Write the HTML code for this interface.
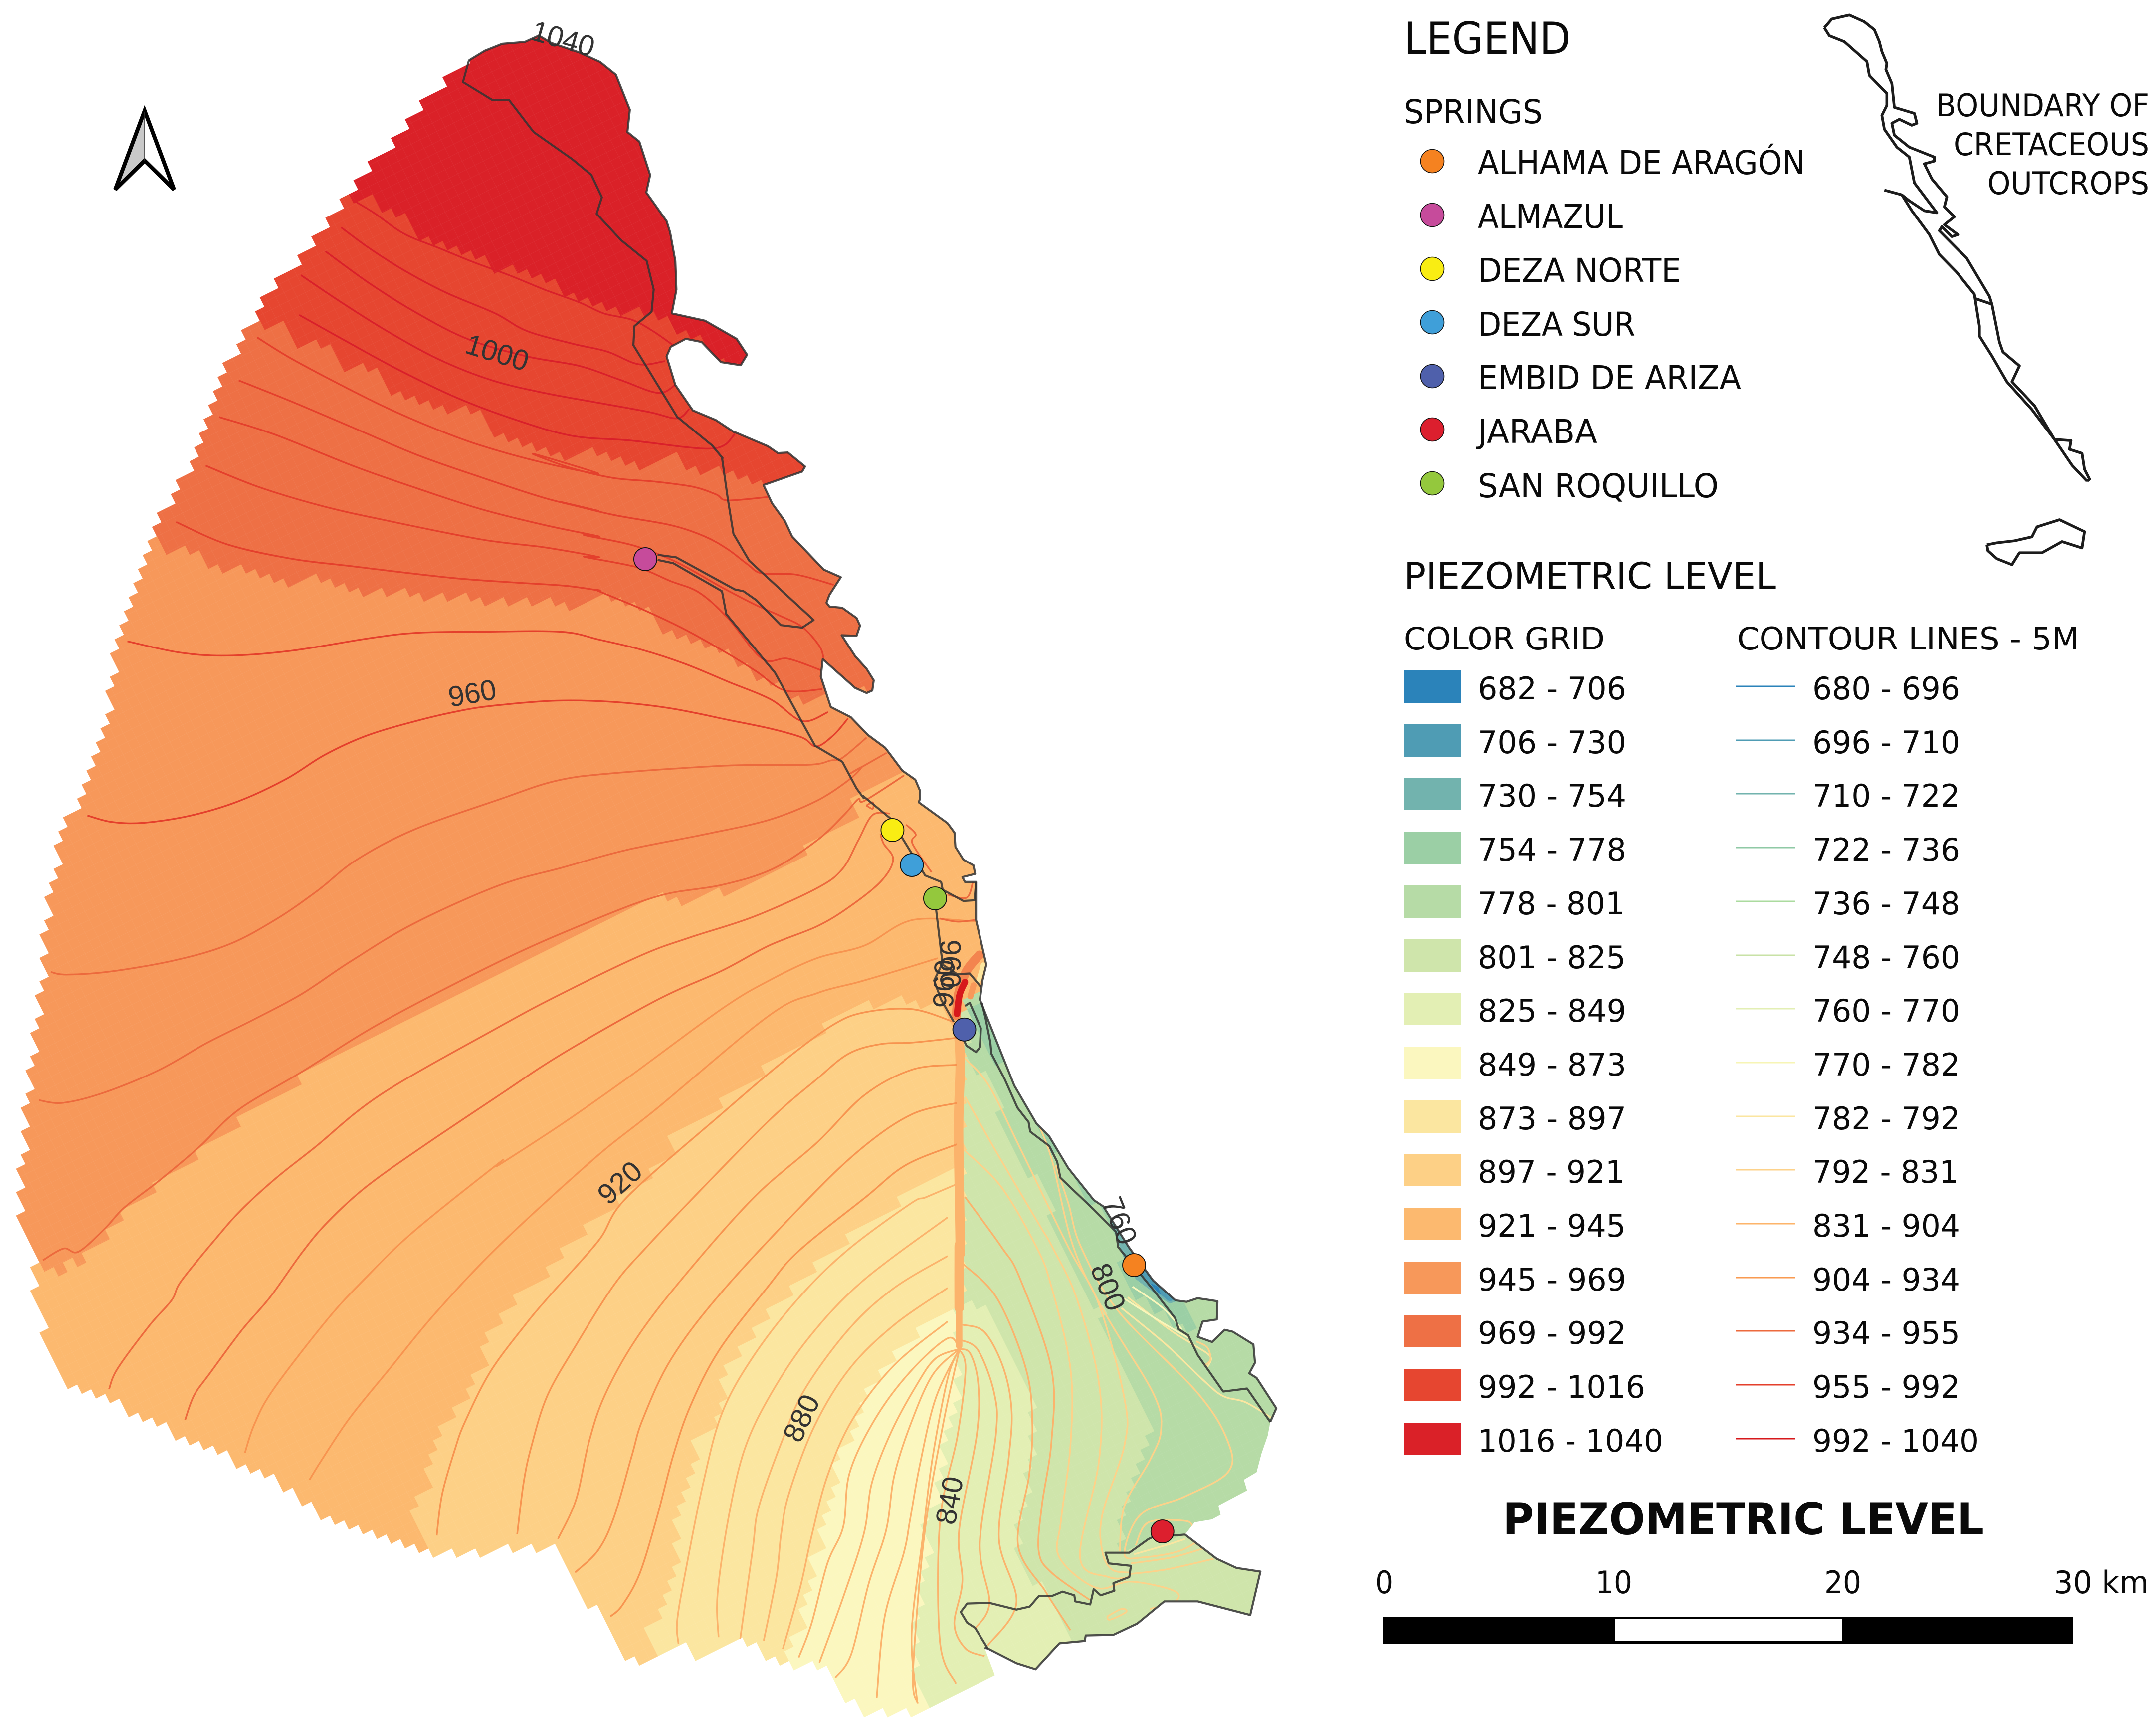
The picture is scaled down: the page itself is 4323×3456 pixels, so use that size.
<!DOCTYPE html>
<html lang="en">
<head>
<meta charset="utf-8">
<title>Piezometric level map</title>
<style>
html,body{margin:0;padding:0;background:#fff}
svg{display:block}
.t{font-family:"DejaVu Sans","Liberation Sans",sans-serif;fill:#0a0a0a}
.cl{font-family:"Liberation Sans",sans-serif;fill:#333;font-size:58px;text-anchor:middle;dominant-baseline:central}
</style>
</head>
<body>
<svg id="map" xmlns="http://www.w3.org/2000/svg" width="4323" height="3456" viewBox="0 0 4323 3456">
<rect width="4323" height="3456" fill="#fff"/>
<defs>
<clipPath id="coastClip"><path id="coastClipPath"/></clipPath>
<pattern id="gridPattern" width="19" height="19" patternUnits="userSpaceOnUse" patternTransform="rotate(-26.57)">
<path d="M19 0H0V19" fill="none" stroke="#fff" stroke-width="1.2" stroke-opacity="0.07"/>
</pattern>
</defs>
<g id="rasterLayer" clip-path="url(#coastClip)"></g>
<g id="detailLayer" clip-path="url(#coastClip)"></g>
<g id="contourLayer" clip-path="url(#coastClip)" fill="none" stroke-linejoin="round" stroke-linecap="butt"></g>
<g id="outlineLayer" fill="none" stroke="#333" stroke-opacity="0.85" stroke-width="4.2" stroke-linejoin="round"></g>

<g>
<text class="cl" transform="translate(1129,78) rotate(16)">1040</text>
<text class="cl" transform="translate(997,707) rotate(17)">1000</text>
<text class="cl" transform="translate(947,1390) rotate(-10)">960</text>
<text class="cl" transform="translate(1243,2371) rotate(-42)">920</text>
<text class="cl" transform="translate(1607,2843) rotate(-65)">880</text>
<text class="cl" transform="translate(1904,3008) rotate(-80)">840</text>
<text class="cl" transform="translate(2222,2580) rotate(68)">800</text>
<text class="cl" transform="translate(2245,2447) rotate(68)">760</text>
<text class="cl" transform="translate(1905,1932) rotate(90)">960</text>
<text class="cl" transform="translate(1893,1972) rotate(-88)">960</text>
</g>

<g id="springLayer"></g>

<g>
<polygon points="290,225 290,322 232,376" fill="#c9c9c9"/>
<polygon points="290,222 349,380 290,322 231,380" fill="none" stroke="#000" stroke-width="8" stroke-linejoin="miter"/>
<line x1="290" y1="225" x2="290" y2="322" stroke="#333" stroke-width="1.5"/>
</g>

<g>
<text class="t" x="2815" y="108" font-size="88" textLength="334" lengthAdjust="spacingAndGlyphs">LEGEND</text>
<text class="t" x="2815" y="247" font-size="66" textLength="278" lengthAdjust="spacingAndGlyphs">SPRINGS</text>

<g>
<circle cx="2872" cy="323" r="23.5" fill="#f58220" stroke="#111" stroke-width="1.6"/>
<circle cx="2872" cy="431" r="23.5" fill="#c64b9b" stroke="#111" stroke-width="1.6"/>
<circle cx="2872" cy="539" r="23.5" fill="#f9ed13" stroke="#111" stroke-width="1.6"/>
<circle cx="2872" cy="646" r="23.5" fill="#3f9fd9" stroke="#111" stroke-width="1.6"/>
<circle cx="2872" cy="754" r="23.5" fill="#4f60ab" stroke="#111" stroke-width="1.6"/>
<circle cx="2872" cy="861" r="23.5" fill="#dc1f2e" stroke="#111" stroke-width="1.6"/>
<circle cx="2872" cy="969" r="23.5" fill="#94c83d" stroke="#111" stroke-width="1.6"/>
<text class="t" x="2963" y="349" font-size="66" textLength="657" lengthAdjust="spacingAndGlyphs">ALHAMA DE ARAGÓN</text>
<text class="t" x="2963" y="457" font-size="66" textLength="291" lengthAdjust="spacingAndGlyphs">ALMAZUL</text>
<text class="t" x="2963" y="565" font-size="66" textLength="408" lengthAdjust="spacingAndGlyphs">DEZA NORTE</text>
<text class="t" x="2963" y="673" font-size="66" textLength="316" lengthAdjust="spacingAndGlyphs">DEZA SUR</text>
<text class="t" x="2963" y="780" font-size="66" textLength="528" lengthAdjust="spacingAndGlyphs">EMBID DE ARIZA</text>
<text class="t" x="2963" y="888" font-size="66" textLength="240" lengthAdjust="spacingAndGlyphs">JARABA</text>
<text class="t" x="2963" y="997" font-size="66" textLength="483" lengthAdjust="spacingAndGlyphs">SAN ROQUILLO</text>
</g>

<text class="t" x="3882" y="233" font-size="62" textLength="427" lengthAdjust="spacingAndGlyphs">BOUNDARY OF</text>
<text class="t" x="3917" y="311" font-size="62" textLength="392" lengthAdjust="spacingAndGlyphs">CRETACEOUS</text>
<text class="t" x="3985" y="389" font-size="62" textLength="324" lengthAdjust="spacingAndGlyphs">OUTCROPS</text>

<text class="t" x="2815" y="1180" font-size="73" textLength="746" lengthAdjust="spacingAndGlyphs">PIEZOMETRIC LEVEL</text>
<text class="t" x="2815" y="1302" font-size="62" textLength="403" lengthAdjust="spacingAndGlyphs">COLOR GRID</text>
<text class="t" x="3483" y="1302" font-size="62" textLength="686" lengthAdjust="spacingAndGlyphs">CONTOUR LINES - 5M</text>

<g>
<rect x="2815" y="1344" width="115" height="65" fill="#2b83ba"/>
<rect x="2815" y="1452" width="115" height="65" fill="#4f9cb4"/>
<rect x="2815" y="1559" width="115" height="65" fill="#72b3ae"/>
<rect x="2815" y="1667" width="115" height="65" fill="#9bcfa5"/>
<rect x="2815" y="1775" width="115" height="65" fill="#b6dba6"/>
<rect x="2815" y="1883" width="115" height="65" fill="#cfe5ab"/>
<rect x="2815" y="1990" width="115" height="65" fill="#e3efb4"/>
<rect x="2815" y="2098" width="115" height="65" fill="#fbf7bf"/>
<rect x="2815" y="2206" width="115" height="65" fill="#fbe6a0"/>
<rect x="2815" y="2313" width="115" height="65" fill="#fdd086"/>
<rect x="2815" y="2421" width="115" height="65" fill="#fcb96f"/>
<rect x="2815" y="2529" width="115" height="65" fill="#f7985a"/>
<rect x="2815" y="2636" width="115" height="65" fill="#ee7045"/>
<rect x="2815" y="2744" width="115" height="65" fill="#e64630"/>
<rect x="2815" y="2852" width="115" height="65" fill="#da2128"/>
<text class="t" x="2963" y="1402" font-size="62" textLength="298" lengthAdjust="spacingAndGlyphs">682 - 706</text>
<text class="t" x="2963" y="1510" font-size="62" textLength="298" lengthAdjust="spacingAndGlyphs">706 - 730</text>
<text class="t" x="2963" y="1617" font-size="62" textLength="298" lengthAdjust="spacingAndGlyphs">730 - 754</text>
<text class="t" x="2963" y="1725" font-size="62" textLength="298" lengthAdjust="spacingAndGlyphs">754 - 778</text>
<text class="t" x="2963" y="1833" font-size="62" textLength="295" lengthAdjust="spacingAndGlyphs">778 - 801</text>
<text class="t" x="2963" y="1941" font-size="62" textLength="297" lengthAdjust="spacingAndGlyphs">801 - 825</text>
<text class="t" x="2963" y="2048" font-size="62" textLength="298" lengthAdjust="spacingAndGlyphs">825 - 849</text>
<text class="t" x="2963" y="2156" font-size="62" textLength="298" lengthAdjust="spacingAndGlyphs">849 - 873</text>
<text class="t" x="2963" y="2264" font-size="62" textLength="298" lengthAdjust="spacingAndGlyphs">873 - 897</text>
<text class="t" x="2963" y="2371" font-size="62" textLength="295" lengthAdjust="spacingAndGlyphs">897 - 921</text>
<text class="t" x="2963" y="2479" font-size="62" textLength="297" lengthAdjust="spacingAndGlyphs">921 - 945</text>
<text class="t" x="2963" y="2587" font-size="62" textLength="298" lengthAdjust="spacingAndGlyphs">945 - 969</text>
<text class="t" x="2963" y="2694" font-size="62" textLength="298" lengthAdjust="spacingAndGlyphs">969 - 992</text>
<text class="t" x="2963" y="2802" font-size="62" textLength="336" lengthAdjust="spacingAndGlyphs">992 - 1016</text>
<text class="t" x="2963" y="2910" font-size="62" textLength="372" lengthAdjust="spacingAndGlyphs">1016 - 1040</text>
</g>

<g stroke-width="3">
<line x1="3481" x2="3600" y1="1376" y2="1376" stroke="#2b83ba"/>
<line x1="3481" x2="3600" y1="1484" y2="1484" stroke="#4f9cb4"/>
<line x1="3481" x2="3600" y1="1591" y2="1591" stroke="#72b3ae"/>
<line x1="3481" x2="3600" y1="1699" y2="1699" stroke="#8fc9a5"/>
<line x1="3481" x2="3600" y1="1807" y2="1807" stroke="#abdb9f"/>
<line x1="3481" x2="3600" y1="1915" y2="1915" stroke="#c8e2a6"/>
<line x1="3481" x2="3600" y1="2022" y2="2022" stroke="#e3efb4"/>
<line x1="3481" x2="3600" y1="2130" y2="2130" stroke="#f7f5b5"/>
<line x1="3481" x2="3600" y1="2238" y2="2238" stroke="#fbe6a0"/>
<line x1="3481" x2="3600" y1="2345" y2="2345" stroke="#fdd28a"/>
<line x1="3481" x2="3600" y1="2453" y2="2453" stroke="#fdb46a"/>
<line x1="3481" x2="3600" y1="2561" y2="2561" stroke="#f99a50"/>
<line x1="3481" x2="3600" y1="2668" y2="2668" stroke="#ec6a3d"/>
<line x1="3481" x2="3600" y1="2776" y2="2776" stroke="#e4402c"/>
<line x1="3481" x2="3600" y1="2884" y2="2884" stroke="#d7191c"/>
<text class="t" stroke="none" x="3634" y="1402" font-size="62" textLength="296" lengthAdjust="spacingAndGlyphs">680 - 696</text>
<text class="t" stroke="none" x="3634" y="1510" font-size="62" textLength="296" lengthAdjust="spacingAndGlyphs">696 - 710</text>
<text class="t" stroke="none" x="3634" y="1617" font-size="62" textLength="296" lengthAdjust="spacingAndGlyphs">710 - 722</text>
<text class="t" stroke="none" x="3634" y="1725" font-size="62" textLength="296" lengthAdjust="spacingAndGlyphs">722 - 736</text>
<text class="t" stroke="none" x="3634" y="1833" font-size="62" textLength="296" lengthAdjust="spacingAndGlyphs">736 - 748</text>
<text class="t" stroke="none" x="3634" y="1941" font-size="62" textLength="296" lengthAdjust="spacingAndGlyphs">748 - 760</text>
<text class="t" stroke="none" x="3634" y="2048" font-size="62" textLength="296" lengthAdjust="spacingAndGlyphs">760 - 770</text>
<text class="t" stroke="none" x="3634" y="2156" font-size="62" textLength="296" lengthAdjust="spacingAndGlyphs">770 - 782</text>
<text class="t" stroke="none" x="3634" y="2264" font-size="62" textLength="296" lengthAdjust="spacingAndGlyphs">782 - 792</text>
<text class="t" stroke="none" x="3634" y="2371" font-size="62" textLength="293" lengthAdjust="spacingAndGlyphs">792 - 831</text>
<text class="t" stroke="none" x="3634" y="2479" font-size="62" textLength="296" lengthAdjust="spacingAndGlyphs">831 - 904</text>
<text class="t" stroke="none" x="3634" y="2587" font-size="62" textLength="296" lengthAdjust="spacingAndGlyphs">904 - 934</text>
<text class="t" stroke="none" x="3634" y="2694" font-size="62" textLength="296" lengthAdjust="spacingAndGlyphs">934 - 955</text>
<text class="t" stroke="none" x="3634" y="2802" font-size="62" textLength="296" lengthAdjust="spacingAndGlyphs">955 - 992</text>
<text class="t" stroke="none" x="3634" y="2910" font-size="62" textLength="334" lengthAdjust="spacingAndGlyphs">992 - 1040</text>
</g>
</g>

<g>
<text class="t" x="3013" y="3076" font-size="88" font-weight="bold" textLength="965" lengthAdjust="spacingAndGlyphs">PIEZOMETRIC LEVEL</text>
<text class="t" x="2758" y="3194" font-size="62" textLength="36" lengthAdjust="spacingAndGlyphs">0</text>
<text class="t" x="3199" y="3194" font-size="62" textLength="74" lengthAdjust="spacingAndGlyphs">10</text>
<text class="t" x="3658" y="3194" font-size="62" textLength="74" lengthAdjust="spacingAndGlyphs">20</text>
<text class="t" x="4118" y="3194" font-size="62" textLength="190" lengthAdjust="spacingAndGlyphs">30 km</text>
<rect x="2774" y="3241" width="1382" height="54" fill="#000"/>
<rect x="3238" y="3246" width="456" height="44" fill="#fff"/>
</g>

<g id="insetLayer" fill="none" stroke="#1c1c1c" stroke-width="5.5" stroke-linejoin="round"></g>
</svg>

<script>
// ---- digitising frames: the source crops the map was read from ----
const z1=[2750,0,1573,1250], z3=[1600,1500,1000,1000], z4=[1700,2500,1000,956],
      z5=[600,0,1100,1000], z6=[0,2300,1000,1000], z7=[900,2400,1000,1056],
      z8=[0,1300,1000,1000], z9=[1000,1500,1000,1000], z10=[200,600,1000,1000], z11=[1000,800,900,800];
function mapX(f,v){return f[0]+v*f[2]/1568;}
function mapY(f,v){return f[1]+v*f[3]/1568;}
function L(){ // L(frame,[x,y,...],frame,[x,y,...])
  const out=[];
  for(let a=0;a<arguments.length;a+=2){
    const f=arguments[a],p=arguments[a+1];
    for(let i=0;i<p.length;i+=2) out.push([mapX(f,p[i]),mapY(f,p[i+1])]);
  }
  return out;
}

// ---- class tables ----
const gridClasses=['1016-1040','992-1016','969-992','945-969','921-945','897-921','873-897','849-873','825-849','801-825','778-801','754-778','730-754','706-730','682-706'];
const gridColors=['#da2128','#e64630','#ee7045','#f7985a','#fcb96f','#fdd086','#fbe6a0','#fbf7bf','#e3efb4','#cfe5ab','#b6dba6','#9bcfa5','#72b3ae','#4f9cb4','#2b83ba'];
const contourColors={a:'#d9202a',b:'#e4402c',c:'#ec6a3d',d:'#f79450',e:'#fbb36c',f:'#fdd28a',g:'#fbe6a0',h:'#f9f6ba'};

// ---- springs ----
const springNames=['alhama-de-aragon','almazul','deza-norte','deza-sur','embid-de-ariza','jaraba','san-roquillo'];
const springColors=['#f58220','#c64b9b','#f9ed13','#3f9fd9','#4f60ab','#dc1f2e','#94c83d'];
const springFrames=[z4,z11,z3,z3,z3,z4,z3];
const springEast=[900,512,297,358,523,989,431];
const springNorth=[59,629,257,367,884,935,472];

const limit992=L(z5,[120,620,165,630,205,620,305,695,345,745,420,770,460,785,500,800,560,850,650,840,760,915,880,965,1000,990,1060,1015,1105,1065,1150,1075,1205,1138,1300,1160]);
const limit969=L(z10,[500,70,530,85,570,65,600,130,650,145,730,150,765,210,890,225,925,290,1020,320,1110,350,1190,350,1230,415,1350,460,1470,495,1568,470],z11,[385,245,530,265,600,225,665,265,780,290,830,305,915,320,930,340]);
const limit945=L(z10,[155,765,190,750,210,780,250,795,285,780,365,855,430,830,470,850,545,890,590,905,660,880,800,920,880,920,1090,935,1220,950,1300,950,1510,965,1568,930],z11,[520,835,555,910,680,950,800,1010,900,1080,980,1120,1045,1185,1115,1170,1145,1140,1300,1140]);
const limit921=L(z6,[130,375,180,390,210,375,195,340,245,358,337,310,325,275,385,245,370,210,497,148,485,118,640,35,625,0],z8,[750,1505,740,1465,960,1357,950,1330,1568,1010],z9,[385,530,380,505,555,460,570,485,700,425,715,450,850,390,1000,300,1060,270,1060,250,1115,210,1115,190,1130,140,1275,85]);
const limit897=L(z6,[1330,1220,1295,1155,1325,1140,1310,1105,1360,1080,1345,1010,1375,995,1358,965,1390,945,1375,915,1405,900,1390,870,1420,850,1405,820,1470,785,1455,755,1485,735,1470,705,1535,672,1518,640,1548,625,1535,590],z7,[185,380,170,350,233,320,218,290,312,240,298,210,362,180,347,150,442,105,428,75,522,28],z9,[555,1260,540,1225,700,1145,685,1115,850,1030,830,1000,1020,895,1005,865,1150,810,1250,790,1315,800,1390,800,1430,870]);
const limit873=L(z7,[660,1340,630,1280,660,1265,645,1235,675,1215,660,1185,690,1170,675,1140,705,1125,693,1095,722,1080,692,1020,722,1005,707,970,737,958,722,925,752,910,738,880,768,865,755,835,785,820,770,790,800,775,770,715,833,683,818,650,848,635,833,605,863,590,848,560,880,545,865,512,927,483,912,453,975,420,962,390,1023,360,1008,330,1070,298,1057,265,1150,220,1138,190,1262,128,1250,97,1408,20],z9,[1240,1400,1445,1300]);
const limit849=L(z7,[1065,1345,1095,1325,1080,1290,1110,1275,1095,1245,1140,1225,1130,1190,1160,1180,1145,1150,1160,1100,1145,1070,1190,1045,1160,985,1190,965,1175,940,1220,880,1205,850,1235,835,1220,800,1250,790,1235,760,1268,740,1253,710,1285,695,1270,665,1300,650,1285,618,1315,600,1300,570,1362,540,1348,510,1410,478,1395,448,1490,400,1475,370,1568,330],z4,[300,210,345,180]);
const limit825=L(z4,[265,1495,215,1400,245,1380,205,1300,225,1270,205,1240,240,1180,210,1130,240,1110,235,1050,260,990,240,920,290,820,280,730,310,680,300,620,330,575,325,530,350,500,345,460,350,340,350,180]);
const zone801=L(z3,[518,920,525,1568],z4,[362,170,370,180,450,215,470,270,490,310,550,460,575,480,590,595,575,640,595,680,570,720,580,810,550,880,535,960,555,1040,645,1190,720,1290,820,1500,2000,2000,2000,-1000],z3,[525,780]);
const zone778=L(z3,[525,780,530,970,590,1040,640,1150,695,1280,720,1310,790,1440,790,1480,830,1568],z4,[672,0,790,200,965,610,920,680,905,735,890,800,860,850,850,900,860,985,1000,960,1060,945,1300,1000,2000,1000,2000,-1000]);
const zone754=L(z3,[540,800,590,940,650,1010,720,1130,800,1250,870,1350,950,1460,1010,1568],z4,[880,120,1000,240,1075,290,1075,225,1040,175,1000,100],z3,[1100,1400,600,800]);
const zone730=L(z3,[985,1490],z4,[865,30,905,105,975,160,1012,186,1040,175,1000,100,905,0],z3,[1010,1480]);
const zone706=L(z4,[885,20,925,90,970,145,1012,180,1030,170,990,100,910,0]);
const zone682=L(z4,[950,118,975,150,985,158,975,130]);

// ---- raster extent (west and south staircase edge) and coast ----
const rasterEdge=L(z5,[480,190,415,265,340,345,295,410,250,475,178,555,135,622,90,685,47,750,0,815],z10,[505,20,440,135,360,295,300,490,235,605,155,765,60,1055],z8,[330,265,265,460,200,570,155,800,125,1100,110,1270,78,1450,75,1560],z6,[65,85,65,165,82,280,130,375,98,393,130,535,165,680,197,745,345,795,455,855,665,950,875,1048,1070,1190,1265,1255,1310,1270,1568,1268],z7,[335,1040,435,1220,465,1205,550,1355,645,1385,745,1340,760,1370,888,1310,900,1335,935,1320,1000,1360,1100,1395,1130,1385,1145,1410,1180,1397,1290,1530,1450,1530],z4,[200,1530,265,1495,440,1400,463,1410]);
const coastNorth=L(z5,[485,190,530,160,580,138,645,132,685,112,720,135,800,165,860,195,905,235,945,345,938,415,972,445,1003,550,992,605,1050,695,1060,730,1075,820,1078,910,1065,985,1160,1008,1250,1065,1280,1115,1262,1148,1205,1138,1150,1075,1105,1065,1062,1090,1050,1120,1075,1210,1125,1290,1190,1320,1245,1360],z11,[825,130,940,185,975,212,1010,210,1070,265,1060,285,925,338,955,410,1000,480,1025,540,1135,670,1195,700,1155,770,1145,800,1155,815,1200,820,1250,860,1262,890,1250,930,1198,928,1245,1010,1285,1060,1310,1105,1305,1145,1285,1155,1245,1135,1180,1070,1132,1022,1125,1090,1160,1210,1230,1250,1290,1320,1350,1370,1410,1460,1455,1495,1472,1540,1472,1568],z3,[380,170,470,235,492,265,495,310,520,350,552,368,557,395,517,405,525,420,560,420,560,540,592,680,580,730,572,790,620,910,680,1060,750,1180,790,1220,850,1320,930,1420,960,1440,1040,1568],z4,[960,110,1030,175,1065,180,1100,168,1162,178,1160,238,1115,245,1100,295,1145,312,1185,272,1210,278,1275,320,1280,380,1262,415,1285,430,1347,530,1328,575]);
const coastGridEdge=L(z4,[1320,620,1300,680,1285,740,1245,765,1255,800,1165,850,1172,880,1145,895,1090,905,1060,945]);
const coastTail=L(z4,[1160,1025,1222,1055,1297,1067,1265,1210,1100,1165,995,1165,910,1238,835,1275,748,1277,745,1295,665,1303,590,1388,530,1368,440,1320,430,1318]);
const coastTailNorth=L(z4,[1060,945,1030,948,990,938,945,960,885,1005,810,1005,820,1040,890,1048,885,1085,835,1105,838,1130,795,1145,773,1125,762,1175,715,1165,712,1145,675,1133,640,1148,600,1148,572,1182,530,1192,445,1170,375,1172,355,1200,375,1235,400,1252,440,1320]);

// ---- interior outcrop boundaries ----
const outlineWest=L(z5,[485,190,468,258,553,315,600,315,670,415,780,500,835,550,865,620,850,672,920,755,993,820,1013,910,1007,980,958,1025,955,1085,1080,1310,1180,1400,1210,1440],z11,[780,230,800,390,820,530,875,635,1100,868,1060,898,985,888,900,790,855,755,825,748,620,622,555,612]);
const outlineAlmazul=L(z11,[555,632,610,645,780,755,795,845,965,1075,1060,1270,1105,1362,1200,1425,1250,1530,1275,1568],z3,[205,150,290,220,400,400,450,420,455,445,520,480,555,478,560,420]);
const outlineLink=L(z3,[430,470,450,640,455,680,500,710,540,708,575,750]);
const outlineBranch=L(z3,[452,680,428,730,450,790,490,860]);
const outlineLoop=L(z3,[525,810,540,800,575,880,572,940,560,955,530,935,520,915]);
const outlineInner=L(z3,[578,800,590,850,605,925,608,960,650,1040,690,1130,725,1175,730,1205,790,1250,815,1300,825,1350,930,1450,1000,1520],z4,[850,0,960,140,1030,235,1040,270,1070,290,1100,355,1180,475,1255,465,1328,575]);

// ---- contours (one array per isoline) ----
const contourLevels=['a','a','a','a','a','b','b','b','b','b','b','b','c','c','c','c','c','d','d','d','d','d','d','d','e','e','e','e','e','e','e','e','e','e','e','e','e','e','e','e','e','f','f','f','f','f','f','f','f','g','g','g','h','h','f','c','c','c','c','f'];
const contourLines=[
L(z5,[155,630,215,670,300,735,400,780,500,825,600,865,700,910,800,950,870,985,950,1005,1010,1040,1075,1090]),
L(z5,[120,715,200,780,300,850,420,920,560,985,650,1040,780,1080,880,1105,970,1145,1045,1135]),
L(z5,[75,790,200,890,330,980,480,1065,650,1120,800,1150,920,1195,1025,1235,1075,1210]),
L(z5,[5,865,120,950,250,1040,400,1130,550,1195,700,1235,850,1265,1000,1295,1080,1315,1115,1285]),
L(z5,[0,990,130,1070,280,1160,450,1250,620,1320,780,1370,950,1385,1180,1410,1245,1365]),
L(z10,[495,120,600,185,750,265,900,340,1050,405,1200,460,1400,515,1568,548],z11,[120,215,250,270,400,310,550,325,680,345,760,375,800,398,940,385]),
L(z10,[437,255,600,320,800,405,1000,490,1200,560,1400,625,1568,665],z11,[220,405,400,455,600,495,720,540,800,590,870,650,920,685,1040,690,1170,730]),
L(z10,[375,370,550,425,800,525,1000,595,1200,660,1400,710,1568,745],z11,[300,535,470,575,620,640,780,740,900,810,980,850,1060,895,1120,970,1135,1020]),
L(z10,[333,523,500,590,700,650,900,695,1200,755,1400,780,1568,810],z11,[300,620,480,660,600,715,700,760,800,860,920,1020,1010,1020,1125,1065]),
L(z10,[240,700,400,770,600,815,800,840,1100,875,1300,890,1460,900,1568,915],z11,[350,755,500,825,650,905,800,1000,900,1070,1000,1145,1130,1140]),
L(z10,[87,1075,250,1110,400,1120,600,1105,850,1065,1000,1048,1200,1045,1450,1045],z11,[350,945,500,985,650,1040,800,1110,950,1180,1060,1265,1150,1230]),
L(z8,[275,525,350,545,450,548,600,525,750,480,900,410,1020,335,1150,275,1300,230,1450,195,1568,178],z11,[200,1185,400,1190,600,1215,800,1260,950,1295,1060,1330,1110,1365,1170,1320,1220,1255]),
L(z8,[160,1017,210,1025,350,1015,550,980,720,930,870,850,1000,760,1120,665,1300,570,1568,475],z11,[200,1500,400,1470,800,1440,1080,1437,1160,1420,1200,1410,1285,1330]),
L(z8,[123,1420,200,1428,330,1395,500,1325,650,1240,800,1165,950,1085,1100,985,1300,865,1568,745],z9,[200,375,400,320,650,270,850,225,1000,165,1100,100,1140,60],z11,[1230,1470,1355,1390]),
L(z6,[135,355,200,318,247,328,330,255,390,190,500,105,625,0],z8,[750,1450,950,1330,1200,1175,1568,985],z9,[250,560,500,465,700,430,860,380,1000,290,1085,210,1130,160,1150,165,1275,85]),
L(z6,[343,760,370,695,470,560,540,480,570,420,680,285,760,195,870,95,990,0],z8,[1200,1400,1568,1190],z9,[200,770,450,650,600,595,800,530,1000,440,1080,380,1130,290,1175,210,1230,205]),
L(z6,[582,857,610,780,660,710,760,575,850,470,950,330,1030,235,1150,125,1325,0],z8,[1568,1405],z9,[200,960,500,790,700,700,850,620,1000,560,1100,500,1200,420,1240,350,1210,300,1200,270]),
L(z6,[770,960,800,870,860,760,1030,540,1150,410,1300,265,1568,50],z9,[0,1310,200,1180,400,1040,700,820,850,730,1000,660,1150,620,1300,540,1500,545]),
L(z6,[973,1045,1010,985,1100,850,1230,690,1370,520,1568,310],z9,[300,1290,500,1130,850,840,1000,770,1130,735,1250,700,1380,660]),
L(z6,[1373,1220,1390,1090,1430,950],z7,[50,670,130,520,240,380,320,290,470,130,560,0],z9,[700,1150,900,980,1050,870,1150,830,1300,820,1430,860]),
L(z7,[215,1003,235,850,260,740,310,590,400,440,520,260,620,150,770,0],z9,[850,1170,1000,1040,1100,960,1200,930,1300,925,1440,910]),
L(z7,[343,1017,400,900,440,730,490,590,590,420,740,235,960,0],z9,[1000,1240,1150,1090,1300,1010,1440,995]),
L(z7,[397,1117,470,1050,520,950,575,770,610,660,700,480,860,280,1135,0],z9,[1150,1250,1300,1150,1440,1115]),
L(z7,[508,1248,545,1215,600,1120,655,950,705,770,760,620,850,455,1000,270,1100,160,1310,0],z9,[1280,1310,1440,1245]),
L(z7,[722,1330,718,1260,745,1110,800,850,860,640,960,470,1100,300,1250,160,1450,20,1500,0],z9,[1440,1370]),
L(z7,[848,1310,845,1180,880,950,930,750,1010,590,1130,420,1300,250,1568,60]),
L(z7,[916,1315,955,1050,975,920,1050,720,1120,570,1260,390,1400,270,1568,175]),
L(z7,[990,1320,1030,1130,1045,1000,1070,880,1150,680,1260,510,1400,380,1568,270]),
L(z7,[1050,1345,1105,1160,1140,1010,1190,830,1270,660,1400,500,1568,370]),
L(z7,[1100,1370,1140,1270,1190,1090,1240,980,1260,820,1340,660,1450,520,1568,420],z4,[350,335]),
L(z7,[1165,1385,1240,1190,1305,1000,1330,850,1390,700,1470,560,1530,480],z4,[350,335]),
L(z7,[1215,1430,1265,1360,1320,1150,1375,990,1400,830,1450,680,1520,530],z4,[350,335]),
L(z7,[1345,1490,1370,1250,1430,1060,1450,960,1480,800,1530,600],z4,[350,335]),
L(z7,[1473,1505,1455,1300,1490,1010,1520,780,1568,540],z4,[350,335]),
L(z4,[220,1500,205,1400,240,950,300,580,350,340]),
L(z4,[340,1435,290,1300,290,900,345,620,370,400,350,335]),
L(z4,[430,1345,370,1320,335,1240,360,1100,350,930,405,620,410,450,385,350,350,335]),
L(z4,[400,1255,445,1170,415,970,465,620,460,480,410,340,355,305]),
L(z4,[440,1310,530,1170,475,960,505,700,515,540,490,400,430,280,360,255]),
L(z3,[525,1410,640,1568],z4,[540,100,640,400,640,640,610,850,600,1000,640,1070,760,1160]),
L(z4,[362,55,470,170,560,400,580,580,570,750,535,980,620,1130,650,1180,700,1260]),
L(z3,[525,1265,640,1380,750,1568],z4,[640,130,700,400,700,650,670,900,665,1020,780,1120,890,1100,1025,1130,1030,1165,950,1190]),
L(z3,[525,1095,630,1280,760,1500,800,1568],z4,[720,170,790,450,790,700,730,1020,820,1085,885,1085]),
L(z3,[525,975,600,1060,700,1260,850,1568],z4,[790,190,870,500,870,650,800,880,800,1000,830,1060,885,1070]),
L(z3,[760,1190,800,1300,866,1568],z4,[810,220,960,480,985,600,950,700,870,850,855,1000]),
L(z3,[810,1310,850,1430,890,1568],z4,[850,210,1100,480,1195,640,1195,740,1060,820,920,880,870,1010,930,1020,1040,1000,1110,960]),
L(z4,[885,1075,1000,1060,1150,1025]),
L(z4,[890,1040,1020,1020,1120,990]),
L(z4,[905,980,945,905,1060,900,1085,920]),
L(z4,[860,200,1000,320,1120,440,1180,490,1250,510,1330,560]),
L(z4,[880,165,1010,270,1085,320,1140,360,1130,395]),
L(z4,[900,1010,1000,980,1060,960]),
L(z4,[870,170,960,230,1040,280,1075,300]),
L(z4,[895,130,990,200,1050,270]),
L(z4,[1095,310,1130,330,1140,370,1120,390]),
L(z3,[340,240,370,270,360,300,420,390]),
L(z3,[215,180,235,170,235,190,215,180]),
L(z3,[470,460,530,470,550,420]),
L(z3,[445,535,500,545,555,540]),
L(z4,[815,1215,860,1190,875,1200,825,1225,815,1215])
];

// ---- inset map of the outcrops ----
const insetCoast=L(z1,[905,70,920,48,955,38,985,55,1005,75,1015,105,1020,130,1030,160,1028,175,1040,210,1045,270,1085,285,1090,310,1080,315,1055,300,1040,310,1045,340,1075,370,1125,395,1125,405,1105,412,1120,450,1150,495,1145,520,1165,545,1145,565,1172,590,1160,595,1140,570,1135,580,1190,650,1235,745,1240,765,1255,860,1262,885,1295,920,1280,960,1325,1020,1365,1105,1398,1108,1395,1130,1420,1140,1425,1180,1435,1205,1430,1210]);
const insetWest=L(z1,[905,70,915,90,945,105,990,155,995,190,1030,235,1030,265,1020,290,1025,325,1050,370,1075,395,1085,460,1130,535,1105,530,1075,505,1060,490,1025,478]);
const insetSouth=L(z1,[1060,490,1080,530,1115,590,1135,640,1170,685,1205,740,1215,820,1215,845,1240,895,1270,960,1320,1030,1365,1105,1400,1170,1430,1210]);
const insetLink=L(z1,[1205,750,1240,765]);
const insetBlob=L(z1,[1230,1370,1250,1365,1285,1360,1320,1350,1330,1325,1375,1307,1425,1337,1420,1378,1380,1362,1340,1390,1295,1390,1280,1420,1250,1405,1232,1385,1230,1370]);

// ---- drawing ----
const NS='http://www.w3.org/2000/svg';
function el(tag,parent){const e=document.createElementNS(NS,tag);parent.appendChild(e);return e;}
function linePath(p,close){let d='M'+p.map(q=>q[0].toFixed(1)+' '+q[1].toFixed(1)).join('L');return d+(close?'Z':'');}
function smoothPath(p){
  if(p.length<3) return linePath(p);
  let d='M'+p[0][0].toFixed(1)+' '+p[0][1].toFixed(1);
  for(let i=0;i<p.length-1;i++){
    const a=p[Math.max(i-1,0)],b=p[i],c=p[i+1],e=p[Math.min(i+2,p.length-1)];
    d+='C'+(b[0]+(c[0]-a[0])/6).toFixed(1)+' '+(b[1]+(c[1]-a[1])/6).toFixed(1)+' '+(c[0]-(e[0]-b[0])/6).toFixed(1)+' '+(c[1]-(e[1]-b[1])/6).toFixed(1)+' '+c[0].toFixed(1)+' '+c[1].toFixed(1);
  }
  return d;
}
function inside(poly,x,y){
  let c=false;
  for(let i=0,j=poly.length-1;i<poly.length;j=i++){
    const a=poly[i],b=poly[j];
    if((a[1]>y)!==(b[1]>y) && x<(b[0]-a[0])*(y-a[1])/(b[1]-a[1])+a[0]) c=!c;
  }
  return c;
}
function southOf(limit,west){
  const last=limit[limit.length-1],first=limit[0];
  return limit.concat([[4700,last[1]],[4700,4200],[west?-300:first[0],4200],[west?-300:first[0],first[1]]]);
}

// clip: coast on the east, open to the west/south (staircase comes from the raster itself)
const coastPoly=[[-300,4200],[-300,-300],L(z5,[300,-80])[0]].concat(coastNorth,coastGridEdge,coastTailNorth.slice(0,1),coastTail,L(z4,[463,1410,463,2000]));
document.getElementById('coastClipPath').setAttribute('d',linePath(coastPoly,true));

// priority list: later polygons win
const layers=[
 [southOf(limit992,true),1],[southOf(limit969,true),2],[southOf(limit945,true),3],[southOf(limit921,true),4],
 [southOf(limit897,false),5],[southOf(limit873,false),6],[southOf(limit849,false),7],[southOf(limit825,false),8],
 [zone801,9],[zone778,10],[zone754,11]
];
const domain=rasterEdge.concat([[4700,3300],[4700,-300],[1200,-300]]);
const cell=21,ca=0.8944,sa=-0.4472;
const paths=gridClasses.map(()=>[]);
for(let i=-60;i<320;i++){
  for(let j=-120;j<220;j++){
    const u=i*cell,v=j*cell;
    const cx=u*ca-v*sa,cy=u*sa+v*ca;
    if(cx<0||cx>2750||cy<0||cy>3456) continue;
    if(!inside(domain,cx,cy)) continue;
    let k=0;
    for(const l of layers){ if(inside(l[0],cx,cy)) k=l[1]; }
    const h=cell/2,ax=h*ca,ay=h*sa,bx=-h*sa,by=h*ca;
    paths[k].push('M'+(cx-ax-bx).toFixed(1)+' '+(cy-ay-by).toFixed(1)+'L'+(cx+ax-bx).toFixed(1)+' '+(cy+ay-by).toFixed(1)+'L'+(cx+ax+bx).toFixed(1)+' '+(cy+ay+by).toFixed(1)+'L'+(cx-ax+bx).toFixed(1)+' '+(cy-ay+by).toFixed(1)+'Z');
  }
}
const rasterLayer=document.getElementById('rasterLayer');
paths.forEach((p,k)=>{
  if(!p.length) return;
  const e=el('path',rasterLayer);
  
  
  e.setAttribute('d',p.join(''));
  e.setAttribute('fill',gridColors[k]);
  e.setAttribute('stroke',gridColors[k]);
  e.setAttribute('stroke-width','0.7');
});
// narrow coastal classes are finer than the coarse cell, so they are drawn directly
[[zone730,12],[zone706,13],[zone682,14]].forEach(z=>{
  const e=el('path',rasterLayer);
  
  
  e.setAttribute('d',linePath(z[0],true));
  e.setAttribute('fill',gridColors[z[1]]);
});
const gridOverlay=el('rect',rasterLayer);


gridOverlay.setAttribute('width','2750');
gridOverlay.setAttribute('height','3456');
gridOverlay.setAttribute('fill','url(#gridPattern)');

// ridge detail
const ridgeSegments=[
 [L(z3,[570,650,530,700,505,770,498,840]),18,'#f3844f'],
 [L(z3,[525,735,508,775,500,835]),13,'#d7191c'],
 [L(z3,[582,680,568,730]),9,'#fbe6a0'],
 [L(z3,[552,745,542,780]),12,'#f7985a'],
 [L(z3,[506,905,510,1000,505,1200,510,1568],z4,[350,0,350,200]),19,'#fbb36c'],
 [L(z4,[350,200,350,325]),13,'#fbb36c']
];
const detailLayer=document.getElementById('detailLayer');
ridgeSegments.forEach((s,i)=>{
  const e=el('path',detailLayer);
  
  
  e.setAttribute('d',smoothPath(s[0]));
  e.setAttribute('fill','none');
  e.setAttribute('stroke-width',s[1]);
  e.setAttribute('stroke',s[2]);
  e.setAttribute('stroke-linecap','round');
});

// contours
const contourLayer=document.getElementById('contourLayer');
contourLines.forEach((p,i)=>{
  const e=el('path',contourLayer);
  
  
  e.setAttribute('d',smoothPath(p));
  e.setAttribute('stroke',contourColors[contourLevels[i]]);
  e.setAttribute('stroke-width','3.4');
});

// outlines
const outlineLayer=document.getElementById('outlineLayer');
[coastNorth,coastTailNorth,coastTailNorth.slice(0,1).concat(coastTail),outlineWest,outlineAlmazul,outlineLink,outlineBranch,outlineLoop,outlineInner].forEach((p,i)=>{
  const e=el('path',outlineLayer);
  
  
  e.setAttribute('d',linePath(p));
});

// springs
const springLayer=document.getElementById('springLayer');
springNames.forEach((n,i)=>{
  const e=el('circle',springLayer);
  
  
  e.setAttribute('cx',mapX(springFrames[i],springEast[i]));
  e.setAttribute('cy',mapY(springFrames[i],springNorth[i]));
  e.setAttribute('r','23');
  e.setAttribute('fill',springColors[i]);
  e.setAttribute('stroke','#111');
  e.setAttribute('stroke-width','1.8');
});

// inset
const insetLayer=document.getElementById('insetLayer');
[insetCoast,insetWest,insetSouth,insetLink,insetBlob].forEach((p,i)=>{
  const e=el('path',insetLayer);
  
  
  e.setAttribute('d',linePath(p));
});
</script>
</body>
</html>
